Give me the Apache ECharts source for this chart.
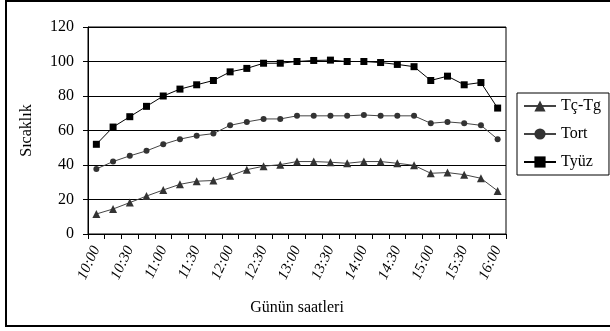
<!DOCTYPE html>
<html><head><meta charset="utf-8">
<script src="https://cdn.jsdelivr.net/npm/echarts@6/dist/echarts.min.js"></script>
<style>html,body{margin:0;padding:0;background:#fff}#c{width:610px;height:331px}</style>
</head><body><div id="c"></div>
<script>
const categories = ["10:00","10:15","10:30","10:45","11:00","11:15","11:30","11:45","12:00","12:15","12:30","12:45","13:00","13:15","13:30","13:45","14:00","14:15","14:30","14:45","15:00","15:15","15:30","15:45","16:00"];
const tcTg = [11.6,14.5,18.2,22,25.5,28.8,30.6,31,33.7,37.3,39.3,40.2,42,42,41.6,41,42,42,41,39.8,35.2,35.6,34.4,32.3,25];
const tort = [37.7,42,45.3,48.2,52,55,57,58.2,63,65,66.7,66.7,68.5,68.5,68.5,68.5,69,68.5,68.5,68.5,64.2,65,64.2,63,55];
const tyuz = [52,62,68,74,80,84,86.5,89,94,96,99,99,100,100.6,100.8,100,100,99.4,98.3,97,89,91.5,86.5,87.8,73];
const yTicks = {min:0, max:120, interval:20};

const font = "'Liberation Serif', 'DejaVu Serif', serif";
const chart = echarts.init(document.getElementById('c'), null, {renderer:'canvas'});
chart.setOption({
  animation:false,
  textStyle:{fontFamily:font},
  graphic:[{type:'rect', shape:{x:6,y:1,width:610,height:325}, style:{fill:'none', stroke:'#000', lineWidth:2}, silent:true}],
  grid:{left:88, top:27, width:418, height:207, show:true, borderColor:'#000', borderWidth:1},
  legend:{
    orient:'vertical', left:517, top:93,
    padding:[5,8,5,6], itemWidth:32, itemHeight:14, itemGap:12,
    borderColor:'#000', borderWidth:1,
    textStyle:{fontFamily:font, fontSize:16, color:'#000'},
    data:['Tç-Tg','Tort','Tyüz']
  },
  xAxis:{
    type:'category', data:categories, boundaryGap:true,
    name:'Günün saatleri', nameLocation:'middle', nameGap:66,
    nameTextStyle:{fontFamily:font, fontSize:16, color:'#000'},
    axisLine:{lineStyle:{color:'#000', width:1}},
    axisTick:{show:true, interval:0, length:5, lineStyle:{color:'#000'}},
    axisLabel:{interval:1, rotate:65, fontFamily:font, fontSize:15, fontStyle:'italic', color:'#000', margin:13},
    splitLine:{show:false}
  },
  yAxis:{
    type:'value', min:yTicks.min, max:yTicks.max, interval:yTicks.interval,
    name:'Sıcaklık', nameLocation:'middle', nameGap:53, nameRotate:90,
    nameTextStyle:{fontFamily:font, fontSize:16, color:'#000'},
    axisLine:{show:true, lineStyle:{color:'#000', width:1}},
    axisTick:{show:true, length:5, lineStyle:{color:'#000'}},
    axisLabel:{fontFamily:font, fontSize:16, color:'#000', margin:14},
    splitLine:{show:true, lineStyle:{color:'#000', width:1}}
  },
  series:[
    {name:'Tç-Tg', type:'line', data:tcTg, symbol:'triangle', symbolSize:8,
     lineStyle:{color:'#444', width:1}, itemStyle:{color:'#333'}},
    {name:'Tort', type:'line', data:tort, symbol:'circle', symbolSize:6,
     lineStyle:{color:'#444', width:1}, itemStyle:{color:'#333'}},
    {name:'Tyüz', type:'line', data:tyuz, symbol:'rect', symbolSize:7,
     lineStyle:{color:'#000', width:1}, itemStyle:{color:'#000'}}
  ]
});
</script></body></html>
